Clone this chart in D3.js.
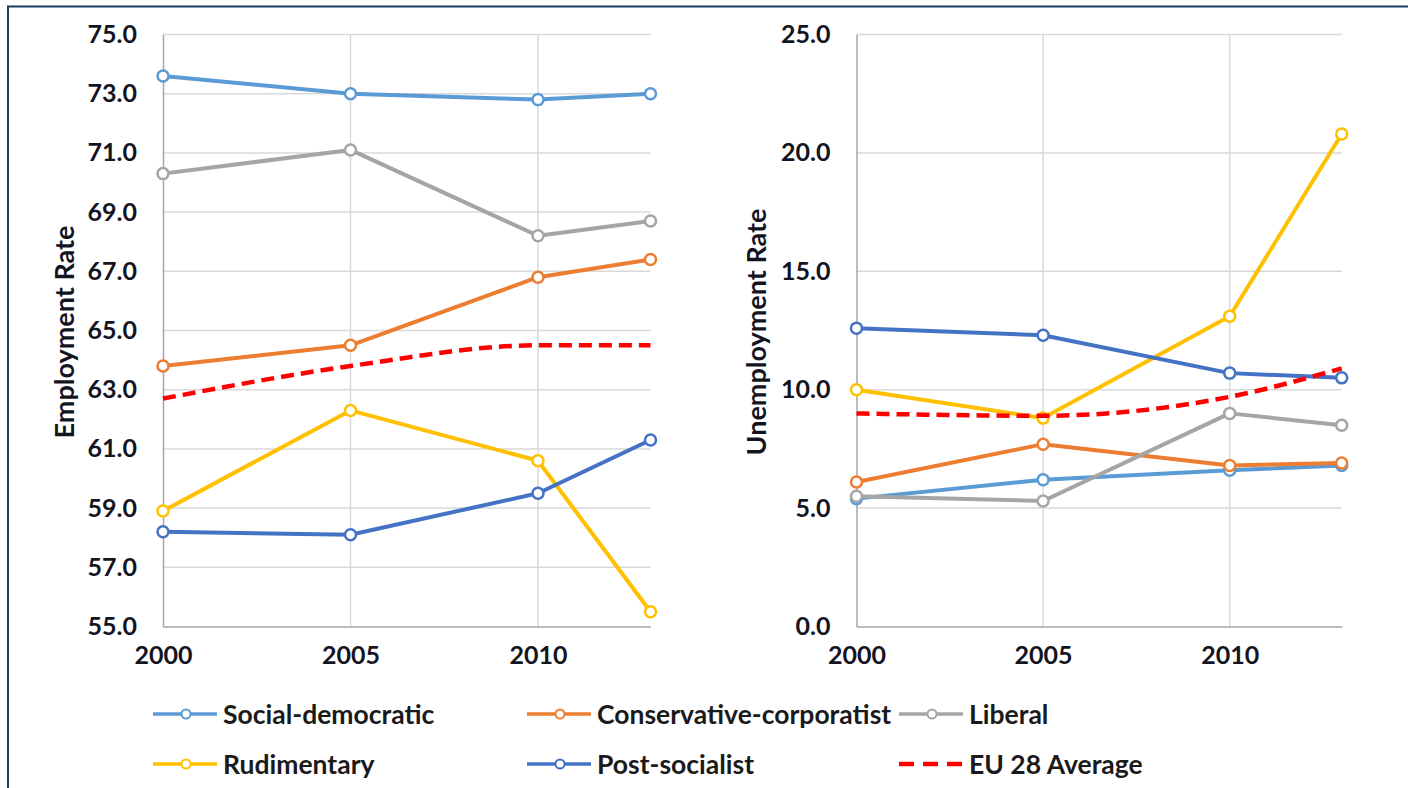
<!DOCTYPE html>
<html>
<head>
<meta charset="utf-8">
<script src="https://cdn.jsdelivr.net/npm/d3@7"></script>
<style>
  html, body { margin: 0; padding: 0; background: #ffffff; }
  svg { display: block; }
  text { font-family: Lato, "Open Sans", sans-serif; }
</style>
</head>
<body>
<svg id="chart" width="1408" height="788"></svg>
<script>
// ---------- data ----------
const years = [2000, 2005, 2010, 2013];
const xTicks = [2000, 2005, 2010];
const seriesNames = ["Social-democratic", "Conservative-corporatist", "Liberal", "Rudimentary", "Post-socialist", "EU 28 Average"];
const seriesColors = ["#5B9BD5", "#ED7D31", "#A5A5A5", "#FFC000", "#4472C4", "#FF0000"];

const empSocial = [73.6, 73.0, 72.8, 73.0];
const empConservative = [63.8, 64.5, 66.8, 67.4];
const empLiberal = [70.3, 71.1, 68.2, 68.7];
const empRudimentary = [58.9, 62.3, 60.6, 55.5];
const empPost = [58.2, 58.1, 59.5, 61.3];
const empEU = [62.7, 63.8, 64.5, 64.5];

const unSocial = [5.4, 6.2, 6.6, 6.8];
const unConservative = [6.1, 7.7, 6.8, 6.9];
const unLiberal = [5.5, 5.3, 9.0, 8.5];
const unRudimentary = [10.0, 8.8, 13.1, 20.8];
const unPost = [12.6, 12.3, 10.7, 10.5];
const unEU = [9.0, 8.9, 9.7, 10.9];

const empTicks = [55, 57, 59, 61, 63, 65, 67, 69, 71, 73, 75];
const unTicks = [0, 5, 10, 15, 20, 25];

// ---------- drawing ----------
const svg = d3.select("#chart");
svg.append("rect").attr("x", 0).attr("y", 0).attr("width", 1408).attr("height", 788).attr("fill", "#fff");
// outer frame
svg.append("rect").attr("x", 8).attr("y", 6.5).attr("width", 1500).attr("height", 900)
  .attr("fill", "none").attr("stroke", "#1F3864").attr("stroke-width", 2);

const textColor = "#14141f";

function panel(cfg) {
  const x = d3.scaleLinear().domain([2000, 2013]).range([cfg.x0, cfg.x1]);
  const y = d3.scaleLinear().domain(cfg.domain).range([626.5, 34.5]);
  const g = svg.append("g");

  // horizontal gridlines
  g.append("g").selectAll("line").data(cfg.ticks.slice(1)).join("line")
    .attr("x1", cfg.x0).attr("x2", cfg.x1)
    .attr("y1", d => y(d)).attr("y2", d => y(d))
    .attr("stroke", "#D9D9D9").attr("stroke-width", 1.5);
  // vertical gridlines
  g.append("g").selectAll("line").data(xTicks.slice(1)).join("line")
    .attr("x1", d => x(d)).attr("x2", d => x(d))
    .attr("y1", y(cfg.domain[0])).attr("y2", y(cfg.domain[1]))
    .attr("stroke", "#D9D9D9").attr("stroke-width", 1.5);

  // y axis
  const yAxis = d3.axisLeft(y).tickValues(cfg.ticks).tickFormat(d3.format(".1f")).tickSize(0).tickPadding(26);
  const ya = g.append("g").attr("transform", `translate(${cfg.x0},0)`).call(yAxis);
  ya.select(".domain").attr("stroke", "#A6A6A6").attr("stroke-width", 1.5);
  ya.selectAll("text").attr("font-size", 25).attr("font-weight", 700).attr("fill", textColor)
    .attr("font-family", "Lato, sans-serif");

  // x axis
  const xAxis = d3.axisBottom(x).tickValues(xTicks).tickFormat(d3.format("d")).tickSize(0).tickPadding(20);
  const xa = g.append("g").attr("transform", `translate(0,${y(cfg.domain[0])})`).call(xAxis);
  xa.select(".domain").attr("stroke", "#A6A6A6").attr("stroke-width", 1.5);
  xa.selectAll("text").attr("font-size", 25).attr("font-weight", 700).attr("fill", textColor)
    .attr("font-family", "Lato, sans-serif");

  // axis title
  g.append("text")
    .attr("transform", `translate(${cfg.titleX},332) rotate(-90)`)
    .attr("text-anchor", "middle").attr("dominant-baseline", "central")
    .attr("font-size", 27).attr("font-weight", 700).attr("fill", textColor)
    .text(cfg.title);

  // series
  cfg.series.forEach((vals, i) => {
    const data = years.map((yr, j) => ({ yr, v: vals[j] }));
    const isEU = i === 5;
    const line = d3.line().x(d => x(d.yr)).y(d => y(d.v))
      .curve(isEU ? d3.curveMonotoneX : d3.curveLinear);
    g.append("path").datum(data).attr("d", line)
      .attr("fill", "none").attr("stroke", seriesColors[i])
      .attr("stroke-width", isEU ? 4.5 : 4)
      .attr("stroke-linejoin", "round")
      .attr("stroke-dasharray", isEU ? "13,7" : null);
    if (!isEU) {
      g.append("g").selectAll("circle").data(data).join("circle")
        .attr("cx", d => x(d.yr)).attr("cy", d => y(d.v)).attr("r", 5.5)
        .attr("fill", "#fff").attr("stroke", seriesColors[i]).attr("stroke-width", 2.5);
    }
  });
}

panel({
  x0: 163, x1: 650.5, domain: [55, 75], ticks: empTicks, titleX: 63,
  title: "Employment Rate",
  series: [empSocial, empConservative, empLiberal, empRudimentary, empPost, empEU]
});
panel({
  x0: 856.5, x1: 1341.7, domain: [0, 25], ticks: unTicks, titleX: 755,
  title: "Unemployment Rate",
  series: [unSocial, unConservative, unLiberal, unRudimentary, unPost, unEU]
});

// ---------- legend ----------
const legCols = [153, 527, 899];
const legRows = [714, 764];
const legend = svg.append("g");
seriesNames.forEach((name, i) => {
  const lx = legCols[i % 3];
  const ly = legRows[Math.floor(i / 3)];
  const isEU = i === 5;
  const it = legend.append("g");
  it.append("line").attr("x1", lx).attr("x2", lx + 64).attr("y1", ly).attr("y2", ly)
    .attr("stroke", seriesColors[i]).attr("stroke-width", isEU ? 4.5 : 3.5)
    .attr("stroke-dasharray", isEU ? "15,9" : null);
  if (!isEU) {
    it.append("circle").attr("cx", lx + 33).attr("cy", ly).attr("r", 4.5)
      .attr("fill", "#fff").attr("stroke", seriesColors[i]).attr("stroke-width", 2);
  }
  it.append("text").attr("x", lx + 70).attr("y", ly).attr("dominant-baseline", "central")
    .attr("font-size", 26.5).attr("font-weight", 700).attr("fill", "#1a1a1a")
    .text(name);
});
</script>
</body>
</html>
